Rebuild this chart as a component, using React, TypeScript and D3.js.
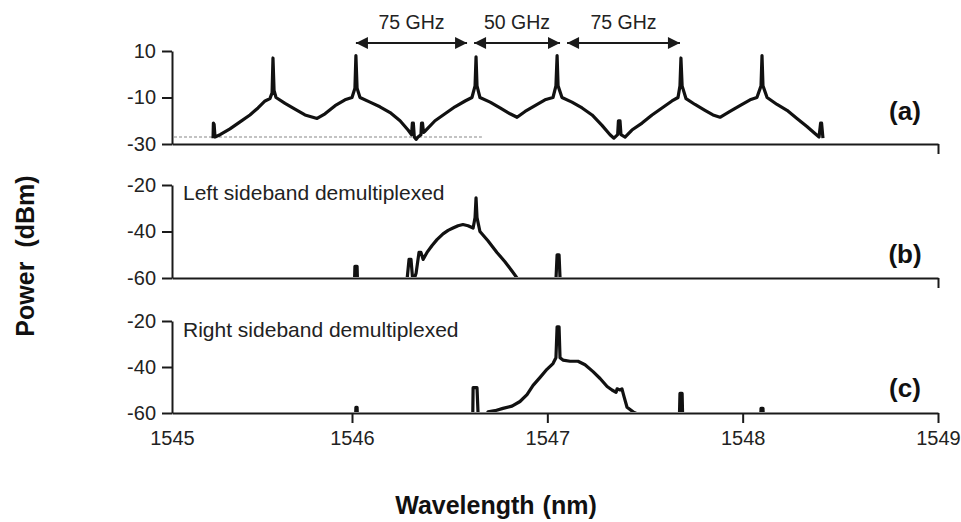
import React, { useEffect, useRef } from 'react';
import * as d3 from 'd3';

type Pt = [number, number];

// ---------- data ----------
const wavelengthTicks = [1545, 1546, 1547, 1548, 1549];
const powerTicksA = [10, -10, -30];
const powerTicksB = [-20, -40, -60];
const powerTicksC = [-20, -40, -60];

// (a) combined spectrum, wavelength (nm) vs power (dBm)
const spectrumA: Pt[] = [
  [1545.228, -27.5], [1545.230, -21], [1545.234, -21.5], [1545.239, -27], [1545.267, -26],
  [1545.322, -23.5], [1545.378, -20.5], [1545.433, -17.5], [1545.478, -14.5], [1545.517, -11.5],
  [1545.544, -10.5], [1545.556, -8], [1545.561, 7], [1545.567, -7], [1545.578, -10],
  [1545.628, -12.5], [1545.683, -15], [1545.739, -17.5], [1545.806, -19], [1545.850, -17],
  [1545.906, -13.5], [1545.961, -11], [1546.000, -10], [1546.015, -6], [1546.020, 8],
  [1546.026, -6], [1546.041, -10], [1546.092, -12], [1546.143, -14], [1546.195, -16.5],
  [1546.246, -20], [1546.287, -24], [1546.305, -26], [1546.309, -21], [1546.314, -21],
  [1546.319, -27], [1546.328, -28], [1546.338, -27], [1546.353, -26], [1546.356, -21],
  [1546.361, -21], [1546.366, -25], [1546.374, -24.5], [1546.425, -20], [1546.476, -17],
  [1546.527, -14], [1546.579, -11.5], [1546.614, -10], [1546.630, -5], [1546.635, 7.5],
  [1546.640, -5], [1546.655, -10], [1546.707, -12], [1546.758, -14.5], [1546.809, -17],
  [1546.845, -18.5], [1546.886, -16], [1546.937, -13.5], [1546.988, -11], [1547.029, -10],
  [1547.044, -5], [1547.050, 8], [1547.055, -5], [1547.075, -10], [1547.126, -12],
  [1547.178, -14.5], [1547.229, -17.5], [1547.280, -22], [1547.321, -26], [1547.341, -27.5],
  [1547.360, -26], [1547.364, -20], [1547.372, -20], [1547.377, -26], [1547.398, -27],
  [1547.433, -24], [1547.485, -21], [1547.536, -17.5], [1547.587, -14.5], [1547.638, -11.5],
  [1547.669, -10], [1547.679, -5], [1547.684, 7], [1547.690, -5], [1547.710, -10.5],
  [1547.756, -13], [1547.807, -15.5], [1547.848, -17.5], [1547.884, -18.5], [1547.935, -16],
  [1547.986, -13.5], [1548.038, -11], [1548.073, -10], [1548.094, -5], [1548.099, 8],
  [1548.104, -5], [1548.125, -10], [1548.176, -13], [1548.227, -15.5], [1548.278, -19],
  [1548.329, -22.5], [1548.370, -25.5], [1548.391, -27], [1548.399, -21], [1548.404, -21],
  [1548.411, -27.5],
];

// (b) left sideband demultiplexed (values below -60 are the hidden noise floor)
const spectrumB: Pt[] = [
  [1545.933, -70], [1546.010, -70], [1546.015, -55], [1546.026, -55], [1546.031, -70],
  [1546.271, -70], [1546.292, -52], [1546.302, -52], [1546.312, -62], [1546.328, -58],
  [1546.343, -49], [1546.353, -49], [1546.364, -52], [1546.384, -49], [1546.410, -46],
  [1546.435, -43.5], [1546.466, -41], [1546.492, -39.5], [1546.517, -38.5], [1546.543, -37.5],
  [1546.568, -37], [1546.594, -37.5], [1546.620, -38.5], [1546.630, -34], [1546.635, -25.5],
  [1546.640, -34], [1546.655, -40], [1546.696, -44], [1546.742, -49], [1546.783, -53],
  [1546.819, -57], [1546.845, -60], [1546.860, -70], [1547.039, -70], [1547.050, -50],
  [1547.060, -50], [1547.070, -70], [1547.270, -70],
];

// (c) right sideband demultiplexed
const spectrumC: Pt[] = [
  [1545.933, -70], [1546.015, -70], [1546.020, -57.5], [1546.026, -57.5], [1546.031, -70],
  [1546.604, -70], [1546.617, -70], [1546.620, -49], [1546.640, -49], [1546.650, -70],
  [1546.676, -66], [1546.696, -59.5], [1546.732, -59], [1546.773, -58], [1546.819, -57],
  [1546.860, -55], [1546.896, -52], [1546.927, -48], [1546.963, -44.5], [1546.998, -41],
  [1547.029, -38.5], [1547.044, -36], [1547.050, -22.5], [1547.060, -22.5], [1547.065, -36],
  [1547.080, -37], [1547.116, -37.5], [1547.157, -37.5], [1547.193, -39], [1547.234, -42],
  [1547.270, -45], [1547.306, -48.5], [1547.331, -50], [1547.352, -51], [1547.357, -49.5],
  [1547.372, -50], [1547.382, -49.5], [1547.393, -53], [1547.408, -57.5], [1547.439, -59.5],
  [1547.475, -61], [1547.577, -70], [1547.674, -70], [1547.679, -51.5], [1547.690, -51.5],
  [1547.695, -70], [1548.089, -70], [1548.094, -58], [1548.104, -58], [1548.109, -70],
  [1548.294, -70],
];

// channel spacing annotations
const spacingLabels = ['75 GHz', '50 GHz', '75 GHz'];
const spacingFrom = [1546.02, 1546.625, 1547.101];
const spacingTo = [1546.589, 1547.065, 1547.679];

// reference (dashed) level in panel (a)
const refLevel = -27;
const refFrom = 1545;
const refTo = 1546.665;

const panelLabels = ['(a)', '(b)', '(c)'];
const panelNotes = ['', 'Left sideband demultiplexed', 'Right sideband demultiplexed'];

// ---------- layout ----------
const W = 961;
const H = 522;
const FONT = "'Liberation Sans', Arial, sans-serif";
const INK = '#1a1a1a';

const panels = [
  { data: spectrumA, domain: [-30, 10], ticks: powerTicksA, top: 51, bottom: 144, labelY: 120, noteY: 0, clip: false, labelled: false },
  { data: spectrumB, domain: [-60, -20], ticks: powerTicksB, top: 185, bottom: 278, labelY: 263, noteY: 200, clip: true, labelled: false },
  { data: spectrumC, domain: [-60, -20], ticks: powerTicksC, top: 321, bottom: 413, labelY: 397, noteY: 337, clip: true, labelled: true },
];

const plain = (d: d3.NumberValue) => String(d);

export default function App() {
  const ref = useRef<SVGSVGElement>(null);

  useEffect(() => {
    const svg = d3.select(ref.current);
    svg.selectAll('*').remove();

    const x = d3.scaleLinear().domain([1545, 1546, 1549]).range([172, 352, 938]);

    const defs = svg.append('defs');
    defs.append('marker')
      .attr('id', 'ah')
      .attr('viewBox', '0 0 10 10')
      .attr('refX', 10).attr('refY', 5)
      .attr('markerWidth', 14).attr('markerHeight', 12)
      .attr('markerUnits', 'userSpaceOnUse')
      .attr('orient', 'auto-start-reverse')
      .append('path').attr('d', 'M0,0 L10,5 L0,10 Z').attr('fill', INK);

    panels.forEach((p, i) => {
      const y = d3.scaleLinear().domain(p.domain).range([p.bottom, p.top]);
      const g = svg.append('g');

      if (p.clip) {
        defs.append('clipPath').attr('id', `clip${i}`)
          .append('rect')
          .attr('x', x(1545)).attr('y', p.top - 30)
          .attr('width', x(1549) - x(1545)).attr('height', p.bottom - p.top + 29);
      }

      if (i === 0) {
        g.append('line')
          .attr('x1', x(refFrom) + 2).attr('x2', x(refTo))
          .attr('y1', y(refLevel)).attr('y2', y(refLevel))
          .attr('stroke', '#b0b0b0').attr('stroke-width', 1.4)
          .attr('stroke-dasharray', '3,2');
      }

      const line = d3.line<Pt>().x(d => x(d[0])).y(d => y(d[1]));
      g.append('path')
        .datum(p.data)
        .attr('d', line)
        .attr('fill', 'none')
        .attr('stroke', '#111')
        .attr('stroke-width', 3.2)
        .attr('stroke-linejoin', 'round')
        .attr('clip-path', p.clip ? `url(#clip${i})` : null);

      // y axis
      const ya = g.append('g')
        .attr('transform', `translate(${x(1545)},0)`)
        .call(d3.axisLeft(y).tickValues(p.ticks).tickSize(10).tickSizeOuter(0).tickPadding(6).tickFormat(plain));

      // x axis
      const xa = g.append('g')
        .attr('transform', `translate(0,${p.bottom})`)
        .call(
          d3.axisBottom(x)
            .tickValues(p.labelled ? wavelengthTicks : [1549])
            .tickSize(10).tickSizeOuter(0).tickPadding(8)
            .tickFormat(p.labelled ? plain : () => '')
        );
      xa.selectAll('.tick').filter((d: any) => d === 1545).select('line').remove();

      [ya, xa].forEach(a => {
        a.select('.domain').attr('stroke', INK).attr('stroke-width', 2);
        a.selectAll('.tick line').attr('stroke', INK).attr('stroke-width', 2);
        a.selectAll('.tick text')
          .attr('fill', '#222')
          .style('font-family', FONT)
          .style('font-size', '20px');
      });

      g.append('text')
        .attr('x', 905).attr('y', p.labelY)
        .attr('text-anchor', 'middle')
        .style('font-family', FONT).style('font-weight', 'bold').style('font-size', '26px')
        .attr('fill', '#111')
        .text(panelLabels[i]);

      if (panelNotes[i]) {
        g.append('text')
          .attr('x', 183).attr('y', p.noteY)
          .style('font-family', FONT).style('font-size', '21px')
          .attr('fill', '#222')
          .text(panelNotes[i]);
      }

      if (i === 0) {
        spacingLabels.forEach((lab, k) => {
          const x1 = x(spacingFrom[k]);
          const x2 = x(spacingTo[k]);
          g.append('line')
            .attr('x1', x1).attr('x2', x2).attr('y1', 43).attr('y2', 43)
            .attr('stroke', INK).attr('stroke-width', 2)
            .attr('marker-start', 'url(#ah)').attr('marker-end', 'url(#ah)');
          g.append('text')
            .attr('x', (x1 + x2) / 2).attr('y', 29)
            .attr('text-anchor', 'middle')
            .style('font-family', FONT).style('font-size', '19.5px')
            .attr('fill', '#222')
            .text(lab);
        });
      }
    });

    // axis titles
    const py = svg.append('text')
      .attr('transform', 'translate(34,256) rotate(-90)')
      .attr('text-anchor', 'middle')
      .style('font-family', FONT).style('font-weight', 'bold').style('font-size', '25px')
      .attr('fill', '#111');
    py.append('tspan').text('Power');
    py.append('tspan').attr('dx', 14).text('(dBm)');

    const px = svg.append('text')
      .attr('x', 496).attr('y', 514)
      .attr('text-anchor', 'middle')
      .style('font-family', FONT).style('font-weight', 'bold').style('font-size', '25px')
      .attr('fill', '#111');
    px.append('tspan').text('Wavelength');
    px.append('tspan').attr('dx', 8).text('(nm)');
  }, []);

  return (
    <svg
      ref={ref}
      width={W}
      height={H}
      style={{ position: 'absolute', left: 0, top: 0, background: '#fff' }}
    />
  );
}
